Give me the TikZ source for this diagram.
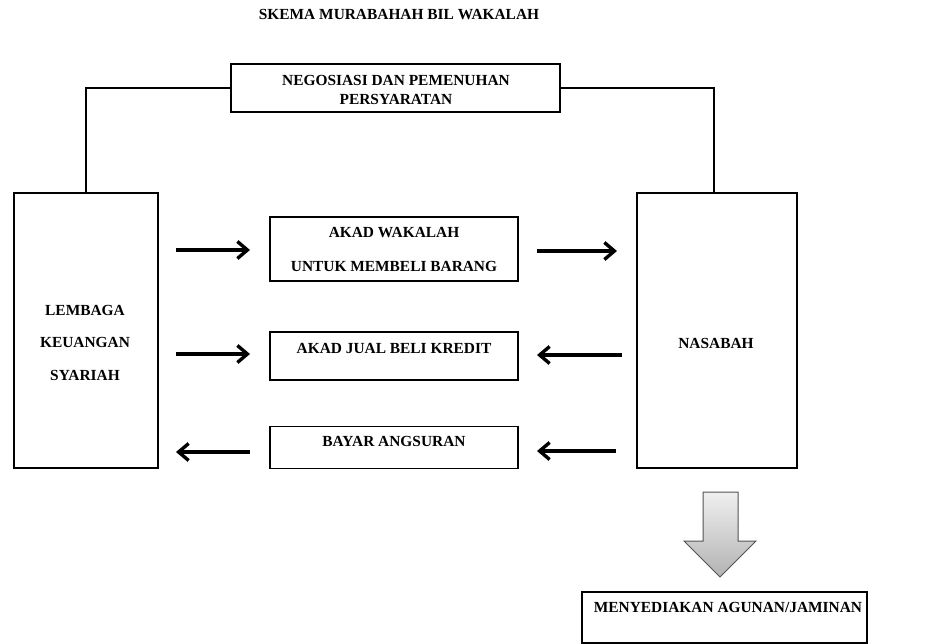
\documentclass[tikz,border=0pt]{standalone}
\usepackage{fontspec}
\setmainfont{Liberation Serif}
\usetikzlibrary{arrows.meta}
\begin{document}
\begin{tikzpicture}[x=1pt,y=-1pt,
  box/.style={draw=black, line width=1.8pt, inner sep=0pt, fill=white},
  lbl/.style={font=\fontsize{15.4}{18}\selectfont\bfseries, inner sep=0pt, text=black},
  conn/.style={draw=black, line width=1.8pt},
  flow/.style={draw=black, line width=3.4pt, -{Straight Barb[length=10pt,width=17pt]}},
  blockarrow/.style={top color=gray!12, bottom color=gray!60, draw=gray!65!black, line width=1pt}
]
\useasboundingbox (0,0) rectangle (946,644);

% title
\node[lbl] (title) at (399,15) {SKEMA MURABAHAH BIL WAKALAH};

% boxes
\node[box, minimum width=329pt, minimum height=48pt] (neg) at (395.5,88) {};
\node[box, minimum width=144pt, minimum height=275pt] (lk) at (86,330.5) {};
\node[box, minimum width=160pt, minimum height=275pt] (nas) at (717,330.5) {};
\node[box, minimum width=248pt, minimum height=64pt] (wak) at (394,249) {};
\node[box, minimum width=248pt, minimum height=48pt] (jb) at (394,356) {};
\node[box, minimum width=248pt, minimum height=42pt] (ang) at (394,447.5) {};
\node[box, minimum width=285pt, minimum height=51pt] (agu) at (724.5,617.5) {};

% texts
\node[lbl] (negt1) at (396,80) {NEGOSIASI DAN PEMENUHAN};
\node[lbl] (negt2) at (396,99) {PERSYARATAN};
\node[lbl] (lkt1) at (85,310) {LEMBAGA};
\node[lbl] (lkt2) at (85,342) {KEUANGAN};
\node[lbl] (lkt3) at (85,375) {SYARIAH};
\node[lbl] (nast) at (716,343) {NASABAH};
\node[lbl] (wakt1) at (394,233) {AKAD WAKALAH};
\node[lbl] (wakt2) at (394,266) {UNTUK MEMBELI BARANG};
\node[lbl] (jbt) at (394,348) {AKAD JUAL BELI KREDIT};
\node[lbl] (angt) at (394,441) {BAYAR ANGSURAN};
\node[lbl] (agut) at (728,607) {MENYEDIAKAN AGUNAN/JAMINAN};

% connectors to negotiation box
\draw[conn] (lk.north) |- (neg.west);
\draw[conn] ([xshift=-3pt]nas.north) |- (neg.east);

% flow arrows
\coordinate (a1s) at (176,250); \coordinate (a1e) at (250,250);
\coordinate (a2s) at (537,251); \coordinate (a2e) at (617,251);
\coordinate (a3s) at (176,354); \coordinate (a3e) at (250,354);
\coordinate (a4s) at (622,355); \coordinate (a4e) at (537,355);
\coordinate (a5s) at (250,452); \coordinate (a5e) at (176,452);
\coordinate (a6s) at (616,451); \coordinate (a6e) at (537,451);
\draw[flow] (a1s) -- (a1e);
\draw[flow] (a2s) -- (a2e);
\draw[flow] (a3s) -- (a3e);
\draw[flow] (a4s) -- (a4e);
\draw[flow] (a5s) -- (a5e);
\draw[flow] (a6s) -- (a6e);

% block arrow down
\shadedraw[blockarrow] (703,492) -- (738,492) -- (738,541) -- (756,541) -- (720,577) -- (684,541) -- (703,541) -- cycle;
\end{tikzpicture}
\end{document}
